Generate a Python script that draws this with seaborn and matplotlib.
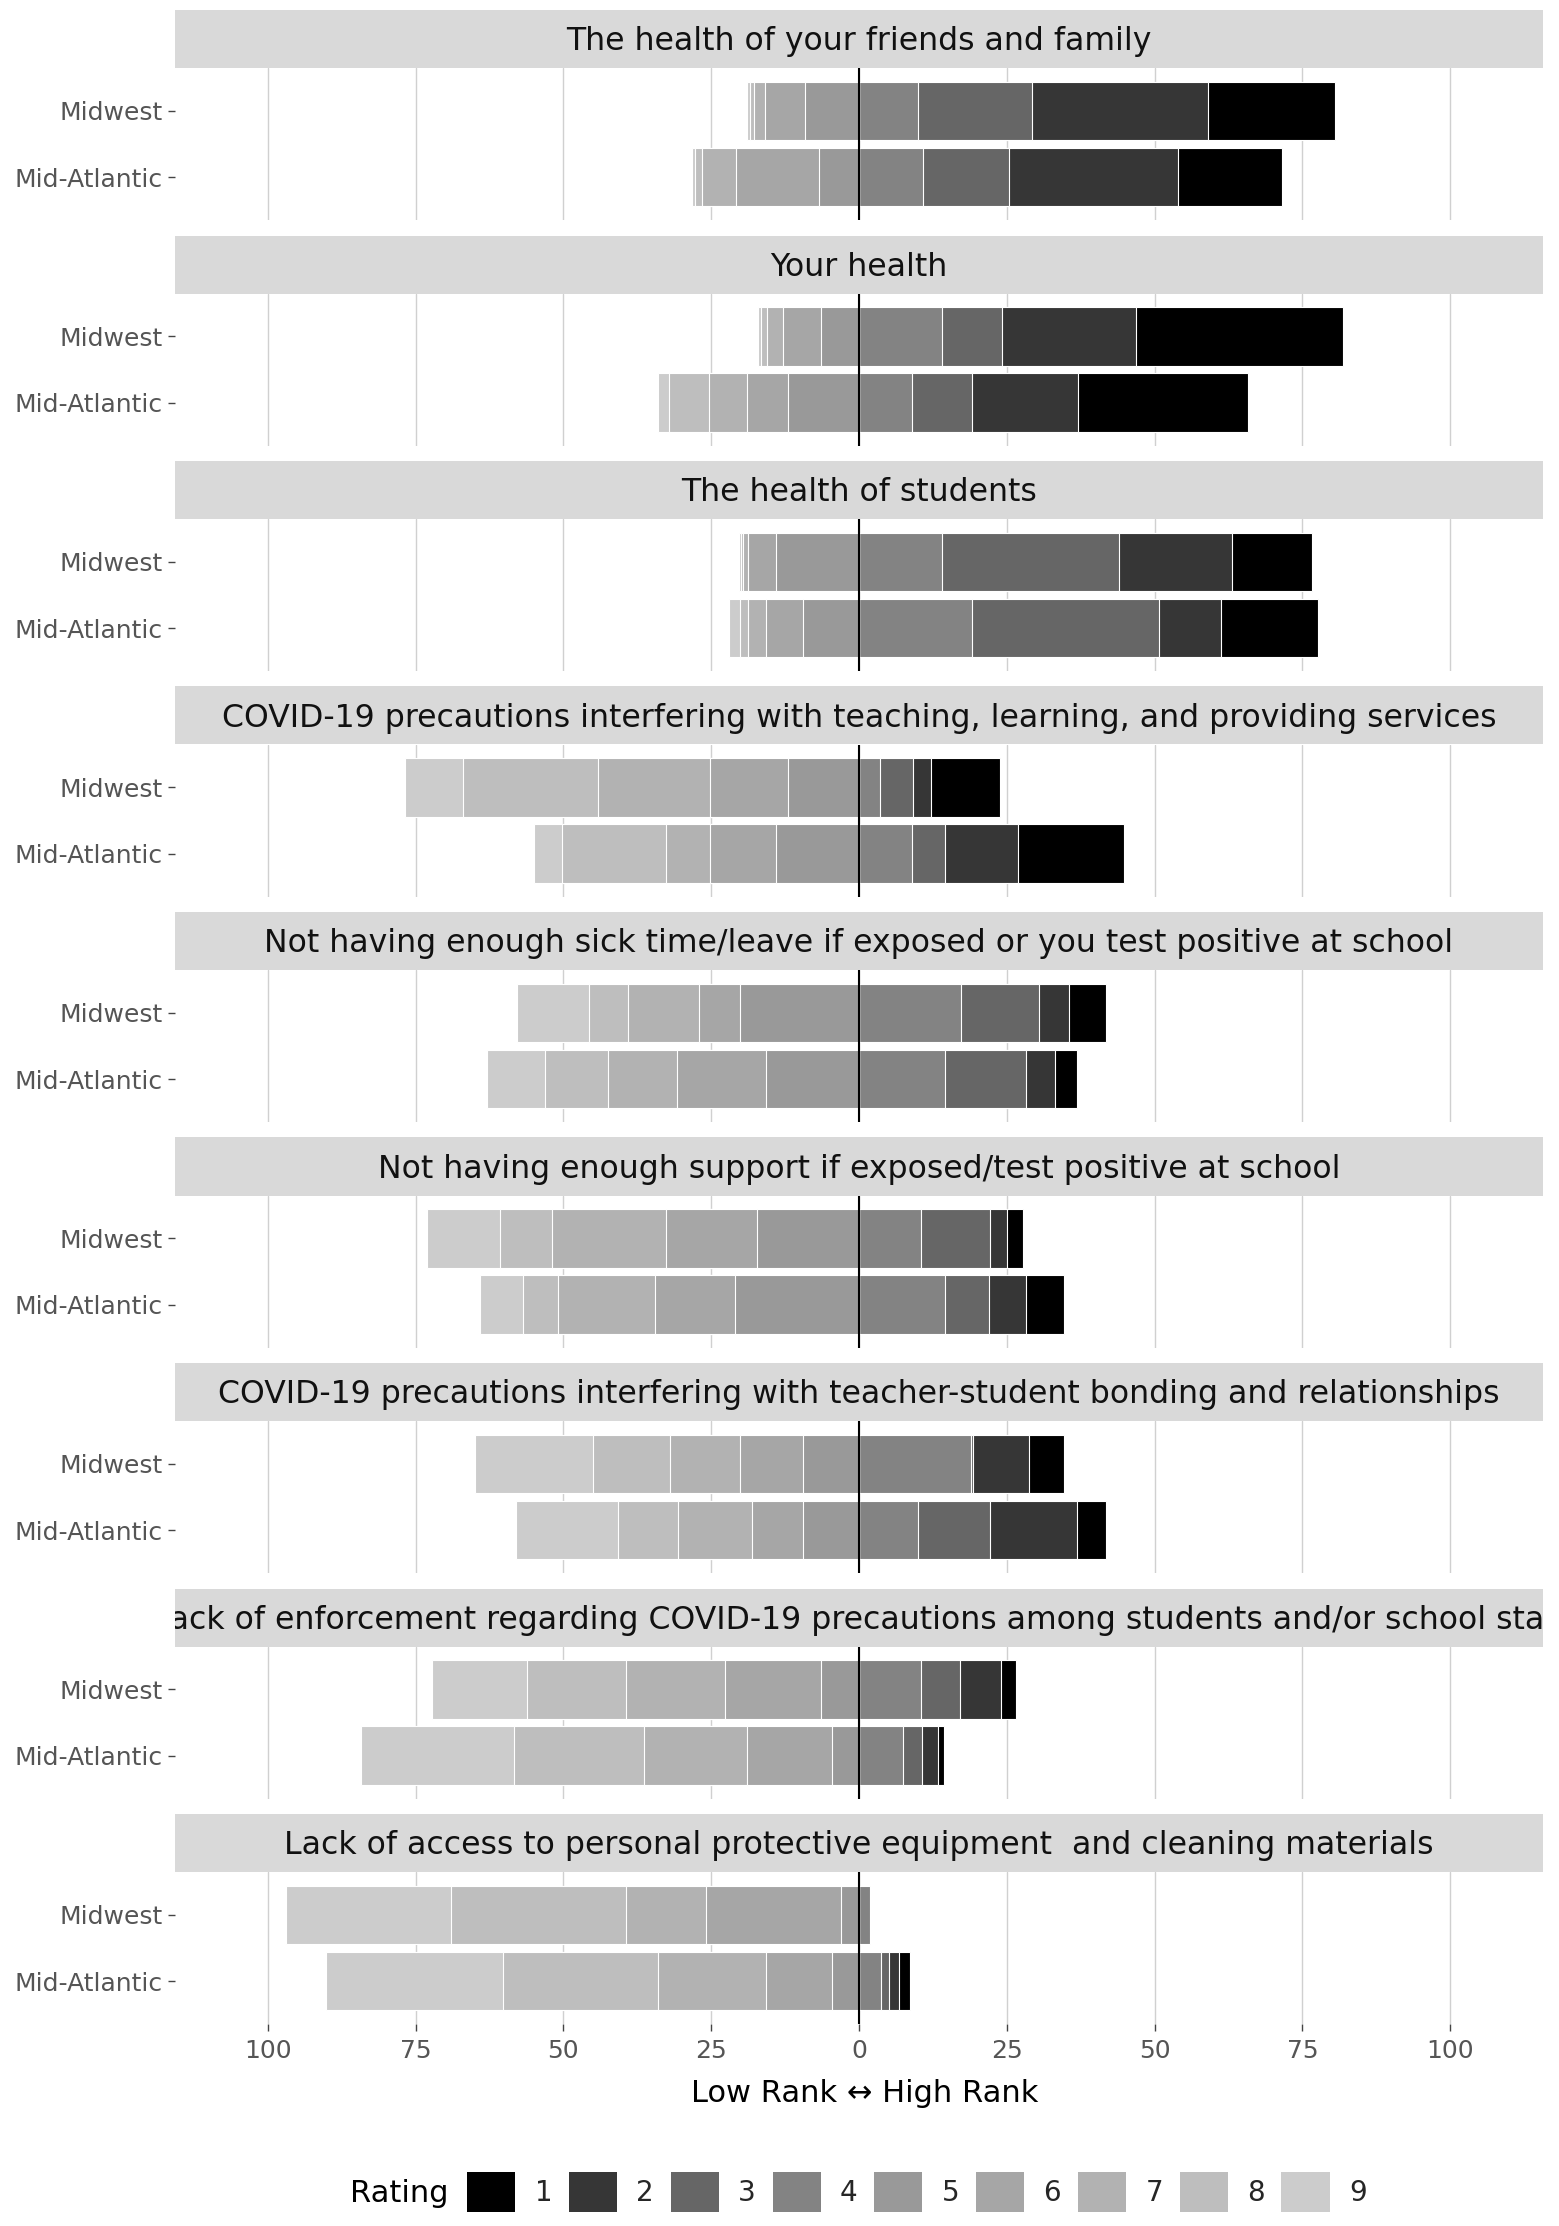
import matplotlib
matplotlib.use("Agg")
import matplotlib.pyplot as plt
from matplotlib.patches import Patch
import seaborn as sns
import pandas as pd

# ratings: 1 = highest rank (right side) ... 9 = lowest rank (left side)
ratings = [1, 2, 3, 4, 5, 6, 7, 8, 9]
regions = ["Midwest", "Mid-Atlantic"]
rating_colors = ["#000000", "#363636", "#666666", "#838383", "#999999",
                 "#a6a6a6", "#b2b2b2", "#bebebe", "#cccccc"]

items = [
    "The health of your friends and family",
    "Your health",
    "The health of students",
    "COVID-19 precautions interfering with teaching, learning, and providing services",
    "Not having enough sick time/leave if exposed or you test positive at school",
    "Not having enough support if exposed/test positive at school",
    "COVID-19 precautions interfering with teacher-student bonding and relationships",
    "Lack of enforcement regarding COVID-19 precautions among students and/or school staff",
    "Lack of access to personal protective equipment  and cleaning materials",
]

# percent of respondents giving rating 1..9
friends_family_mw = [21.6, 29.8, 19.2, 10.0, 9.2, 6.7, 1.8, 0.8, 0.4]
friends_family_ma = [17.7, 28.6, 14.4, 10.9, 6.7, 14.1, 5.7, 1.2, 0.5]
own_health_mw = [35.0, 22.7, 10.2, 14.0, 6.4, 6.4, 2.8, 1.0, 0.4]
own_health_ma = [28.8, 17.9, 10.1, 9.0, 12.0, 7.0, 6.3, 6.8, 1.9]
students_mw = [13.6, 19.1, 30.0, 14.0, 14.1, 4.7, 0.8, 0.4, 0.3]
students_ma = [16.5, 10.5, 31.6, 19.1, 9.5, 6.3, 2.9, 1.4, 1.9]
teaching_mw = [11.7, 3.1, 5.6, 3.5, 12.0, 13.2, 18.9, 22.8, 9.9]
teaching_ma = [17.9, 12.3, 5.6, 9.0, 14.1, 11.1, 7.4, 17.7, 4.7]
sick_time_mw = [6.2, 5.2, 13.1, 17.3, 20.2, 6.9, 12.0, 6.5, 12.3]
sick_time_ma = [3.7, 4.9, 13.6, 14.6, 15.7, 15.1, 11.7, 10.6, 9.8]
support_mw = [2.7, 2.8, 11.7, 10.5, 17.2, 15.4, 19.3, 8.9, 12.3]
support_ma = [6.5, 6.2, 7.4, 14.6, 20.9, 13.6, 16.4, 5.9, 7.3]
bonding_mw = [5.9, 9.5, 0.3, 19.0, 9.5, 10.7, 11.7, 13.1, 20.0]
bonding_ma = [4.9, 14.6, 12.3, 9.9, 9.5, 8.6, 12.6, 10.0, 17.3]
enforcement_mw = [2.5, 7.0, 6.5, 10.5, 6.4, 16.3, 16.7, 16.7, 16.2]
enforcement_ma = [1.0, 2.7, 3.1, 7.5, 4.6, 14.4, 17.4, 21.9, 25.9]
ppe_mw = [0.0, 0.0, 0.0, 1.9, 3.0, 22.8, 13.6, 29.6, 27.9]
ppe_ma = [1.8, 1.8, 1.2, 3.8, 4.6, 11.1, 18.3, 26.2, 29.9]

panel_values = [
    (friends_family_mw, friends_family_ma),
    (own_health_mw, own_health_ma),
    (students_mw, students_ma),
    (teaching_mw, teaching_ma),
    (sick_time_mw, sick_time_ma),
    (support_mw, support_ma),
    (bonding_mw, bonding_ma),
    (enforcement_mw, enforcement_ma),
    (ppe_mw, ppe_ma),
]


# cumulative extent of every segment: ratings 1-4 to the right, 5-9 to the left
def diverging_table(mw, ma):
    rows = []
    for region, vals in zip(regions, (mw, ma)):
        for r in ratings:
            if r <= 4:
                cum = sum(vals[r - 1:4])
            else:
                cum = -sum(vals[4:r])
            rows.append({"region": region, "rating": r, "cum": cum})
    return pd.DataFrame(rows)


sns.set_theme(style="white")
plt.rcParams["font.family"] = ["DejaVu Sans"]

W, H = 1559, 2226
fig = plt.figure(figsize=(W / 100, H / 100), dpi=100)

left = 175 / W
width = 1368 / W
step = 225.5
draw_order = [1, 2, 3, 4, 9, 8, 7, 6, 5]

for k, (title, (mw, ma)) in enumerate(zip(items, panel_values)):
    # strip header
    sax = fig.add_axes([left, 1 - (68 + step * k) / H, width, 58 / H])
    sax.set_facecolor("#d9d9d9")
    sax.set_xticks([])
    sax.set_yticks([])
    for s in sax.spines.values():
        s.set_visible(False)
    sax.text(0.5, 0.45, title, transform=sax.transAxes, ha="center", va="center",
             fontsize=22.7, color="#111111", clip_on=True)

    ax = fig.add_axes([left, 1 - (220 + step * k) / H, width, 152 / H])
    df = diverging_table(mw, ma)
    for r in draw_order:
        sns.barplot(data=df[df["rating"] == r], x="cum", y="region", order=regions,
                    orient="y", color=rating_colors[r - 1], saturation=1,
                    width=0.88, errorbar=None, edgecolor="white", linewidth=0.8,
                    ax=ax, zorder=2)
    ax.axvline(0, color="black", lw=1.5, zorder=5)
    ax.set_xlim(-115.7, 115.7)
    ax.set_ylim(1.65, -0.65)
    ax.set_xticks([-100, -75, -50, -25, 0, 25, 50, 75, 100])
    ax.set_xticklabels(["100", "75", "50", "25", "0", "25", "50", "75", "100"])
    ax.grid(axis="x", color="#d0d0d0", lw=1.0, zorder=0)
    ax.set_axisbelow(True)
    ax.set_xlabel("")
    ax.set_ylabel("")
    for s in ax.spines.values():
        s.set_visible(False)
    ax.tick_params(axis="y", left=True, length=5, width=1, color="#444444",
                   labelsize=18, labelcolor="#555555", pad=4)
    if k == len(items) - 1:
        ax.tick_params(axis="x", bottom=True, length=5, width=1, color="#444444",
                       labelsize=18, labelcolor="#555555", pad=6)
    else:
        ax.tick_params(axis="x", bottom=False, labelbottom=False)

fig.text(865 / W, 1 - 2093 / H, "Low Rank \u2194 High Rank", ha="center", va="center",
         fontsize=22, color="black")

# legend
fig.text(350 / W, 1 - 2194 / H, "Rating", ha="left", va="center", fontsize=22, color="black")
handles = [Patch(facecolor=c, edgecolor="none", label=str(r)) for r, c in zip(ratings, rating_colors)]
fig.legend(handles=handles, ncol=9, loc="center left", bbox_to_anchor=(467 / W, 1 - 2192 / H),
           frameon=False, fontsize=20, handlelength=1.73, handleheight=1.8,
           handletextpad=0.7, columnspacing=0.6, borderpad=0, borderaxespad=0)

fig.savefig("out.png", dpi=100)
